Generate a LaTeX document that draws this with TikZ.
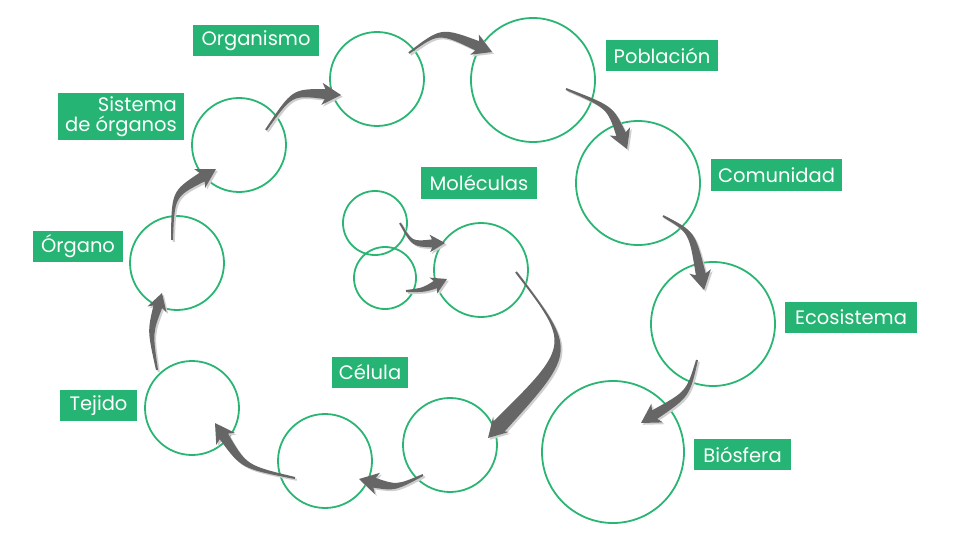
\documentclass[tikz,border=0pt]{standalone}
\usepackage{fontspec}
\setmainfont{Poppins}
\usetikzlibrary{calc}
\definecolor{cgreen}{HTML}{2AB573}
\definecolor{lgreen}{HTML}{25B473}
\definecolor{agray}{HTML}{666666}
\definecolor{sgray}{HTML}{CFCFCF}
\tikzset{
  circ/.style={circle, draw=cgreen, line width=1.8pt, inner sep=0pt, fill=none},
  lab/.style={fill=lgreen, text=white, inner sep=0pt, minimum height=31pt,
    font=\fontsize{19.5}{21}\selectfont, align=center},
}
% tail, control, tip, scale, body scale
\newcommand\bigarrow[5]{%
  \coordinate (hb) at ($(#3)!#4*16pt!(#2)$);
  \foreach \col/\sh in {sgray/1.8pt, agray/0pt}{%
    \fill[\col, transform canvas={shift={(\sh,-\sh)}}]
      ($(#1)!1pt!90:(#2)$)
      .. controls ($(#2)!#5*3pt!90:(#3)$) .. ($(hb)!#5*5pt!90:(#3)$)
      -- ($($(hb)!#4*3pt!(#2)$)!#4*11pt!90:(#3)$)
      -- (#3)
      -- ($($(hb)!#4*3pt!(#2)$)!#4*11pt!-90:(#3)$)
      -- ($(hb)!#5*5pt!-90:(#3)$)
      .. controls ($(#2)!#5*3pt!-90:(#3)$) .. ($(#1)!1pt!-90:(#2)$) -- cycle;
  }%
}
\begin{document}
\begin{tikzpicture}[x=1pt,y=-1pt]
\useasboundingbox (0,0) rectangle (960,540);
% circles
\node[circ, minimum size=94pt] (org) at (377,79) {};
\node[circ, minimum size=124pt] (pob) at (533,80) {};
\node[circ, minimum size=94pt] (sis) at (239,145) {};
\node[circ, minimum size=94pt] (orgn) at (177,263) {};
\node[circ, minimum size=94pt] (tej) at (192,408) {};
\node[circ, minimum size=94pt] (cel) at (325,461) {};
\node[circ, minimum size=94pt] (cel2) at (450,445) {};
\node[circ, minimum size=64pt] (m1) at (375,223) {};
\node[circ, minimum size=62pt] (m2) at (385,278) {};
\node[circ, minimum size=94pt] (mb) at (481,270) {};
\node[circ, minimum size=124pt] (com) at (638,183) {};
\node[circ, minimum size=124pt] (eco) at (713,324) {};
\node[circ, minimum size=142pt] (bio) at (613,452) {};
% labels
\node[lab, minimum width=126pt] (lorg) at (256,40.5) {Organismo};
\node[lab, minimum width=112pt] (lpob) at (662,55.5) {Población};
\node[lab, minimum width=126pt, minimum height=47pt, align=right, font=\fontsize{19.5}{19.5}\selectfont] (lsis) at (121,116.5) {Sistema\\de órganos};
\node[lab, minimum width=90pt] (lorgn) at (78,246.5) {Órgano};
\node[lab, minimum width=116pt] (lmol) at (479,183) {Moléculas};
\node[lab, minimum width=131pt] (lcom) at (776.5,175) {Comunidad};
\node[lab, minimum width=132pt] (leco) at (851,317.5) {Ecosistema};
\node[lab, minimum width=97pt] (lbio) at (742.5,454.5) {Biósfera};
\node[lab, minimum width=76pt] (lcel) at (370,372) {Célula};
\node[lab, minimum width=77pt] (ltej) at (98.5,405.5) {Tejido};
% arrow coordinates
\coordinate (t1) at (409,53); \coordinate (c1) at (440,30); \coordinate (h1) at (492,52);
\coordinate (t2) at (266,130); \coordinate (c2) at (292,92); \coordinate (h2) at (341,95);
\coordinate (t3) at (172,240); \coordinate (c3) at (173,194); \coordinate (h3) at (216,169);
\coordinate (t4) at (157,370); \coordinate (c4) at (150,332); \coordinate (h4) at (162,293);
\coordinate (t5) at (295,478); \coordinate (c5) at (244,467); \coordinate (h5) at (215,423);
\coordinate (t6) at (423,475); \coordinate (c6) at (396,488); \coordinate (h6) at (359,479);
\coordinate (t7) at (516,272); \coordinate (c7) at (574,348); \coordinate (h7) at (488,438);
\coordinate (t8) at (400,223); \coordinate (c8) at (412,244); \coordinate (h8) at (445,243);
\coordinate (t9) at (406,291); \coordinate (c9) at (424,290); \coordinate (h9) at (447,279);
\coordinate (t10) at (566,89); \coordinate (c10) at (610,107); \coordinate (h10) at (627,149);
\coordinate (t11) at (663,216); \coordinate (c11) at (692,232); \coordinate (h11) at (704,290);
\coordinate (t12) at (697,360); \coordinate (c12) at (688,394); \coordinate (h12) at (641,423);
\bigarrow{t1}{c1}{h1}{1}{1}
\bigarrow{t2}{c2}{h2}{1}{1}
\bigarrow{t3}{c3}{h3}{1}{1}
\bigarrow{t4}{c4}{h4}{0.9}{0.9}
\bigarrow{t5}{c5}{h5}{1}{1}
\bigarrow{t6}{c6}{h6}{1}{1}
\bigarrow{t7}{c7}{h7}{1}{1.5}
\bigarrow{t8}{c8}{h8}{0.8}{0.8}
\bigarrow{t9}{c9}{h9}{0.8}{0.8}
\bigarrow{t10}{c10}{h10}{1}{1}
\bigarrow{t11}{c11}{h11}{1}{1}
\bigarrow{t12}{c12}{h12}{1}{1}
\end{tikzpicture}
\end{document}
